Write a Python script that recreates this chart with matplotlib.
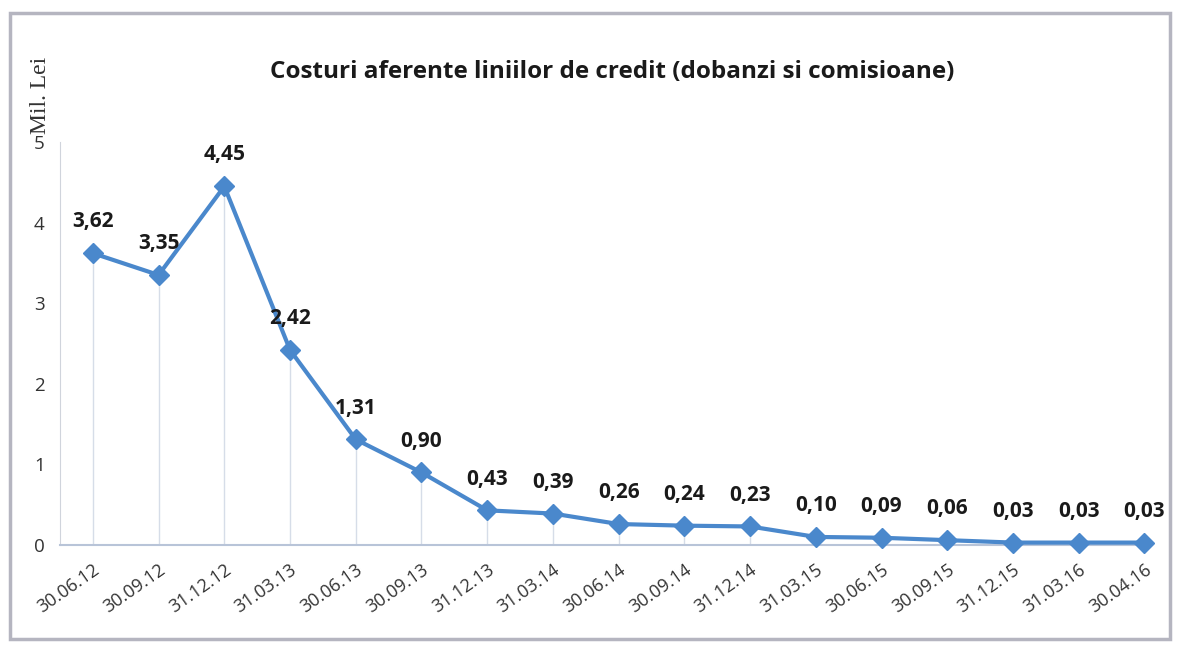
import matplotlib
matplotlib.use("Agg")
import matplotlib.pyplot as plt
from matplotlib.patches import Rectangle

# date / valori (mil. lei)
dates = ['30.06.12', '30.09.12', '31.12.12', '31.03.13', '30.06.13', '30.09.13',
         '31.12.13', '31.03.14', '30.06.14', '30.09.14', '31.12.14', '31.03.15',
         '30.06.15', '30.09.15', '31.12.15', '31.03.16', '30.04.16']
costs = [3.62, 3.35, 4.45, 2.42, 1.31, 0.90, 0.43, 0.39, 0.26, 0.24, 0.23,
         0.10, 0.09, 0.06, 0.03, 0.03, 0.03]
yticks = [0, 1, 2, 3, 4, 5]

blue = '#4a88cc'
W, H = 1184, 653

fig = plt.figure(figsize=(W / 100, H / 100), dpi=100)
fig.patch.set_facecolor('white')

# chenarul graficului (scanat)
fig.patches.append(Rectangle((10 / W, 14 / H), 1160 / W, 626 / H,
                             transform=fig.transFigure, fill=False,
                             edgecolor='#b5b5c0', linewidth=2.5))

ax = fig.add_axes([60 / W, (H - 545) / H, 1091 / W, 403 / H])
x = list(range(len(dates)))

# linii verticale de la puncte la axa
ax.vlines(x, 0, costs, color='#d6dde8', linewidth=1, zorder=1)
ax.plot(x, costs, color=blue, linewidth=3, marker='D', markersize=10,
        zorder=3, clip_on=False)

for xi, v in zip(x, costs):
    ax.annotate(f'{v:.2f}'.replace('.', ','), (xi, v), xytext=(0, 15),
                textcoords='offset points', ha='center', va='bottom',
                fontsize=15, fontweight='bold', family='Open Sans',
                color='#1a1a1a')

ax.set_xlim(-0.5, 16.1)
ax.set_ylim(0, 5)
ax.set_yticks(yticks)
ax.set_yticklabels([str(t) for t in yticks], family='Open Sans',
                   fontsize=13.5, color='#333333')
ax.set_xticks(x)
ax.set_xticklabels(dates, rotation=35, ha='right', rotation_mode='anchor',
                   family='Open Sans', fontsize=13, color='#333333')
ax.tick_params(axis='both', length=0, pad=11)

for s in ['top', 'right']:
    ax.spines[s].set_visible(False)
ax.spines['left'].set_color('#d0d4dc')
ax.spines['bottom'].set_color('#b8c4d8')
ax.spines['bottom'].set_linewidth(1.5)

fig.text(612 / W, 1 - 72 / H,
         'Costuri aferente liniilor de credit (dobanzi si comisioane)',
         ha='center', va='center', fontsize=17.5, fontweight='bold',
         family='Open Sans', color='#1a1a1a')
fig.text(40 / W, 1 - 95 / H, 'Mil. Lei', rotation=90, ha='center',
         va='center', fontsize=17, family='Liberation Serif', color='#333333')

fig.savefig('out.png', dpi=100)
